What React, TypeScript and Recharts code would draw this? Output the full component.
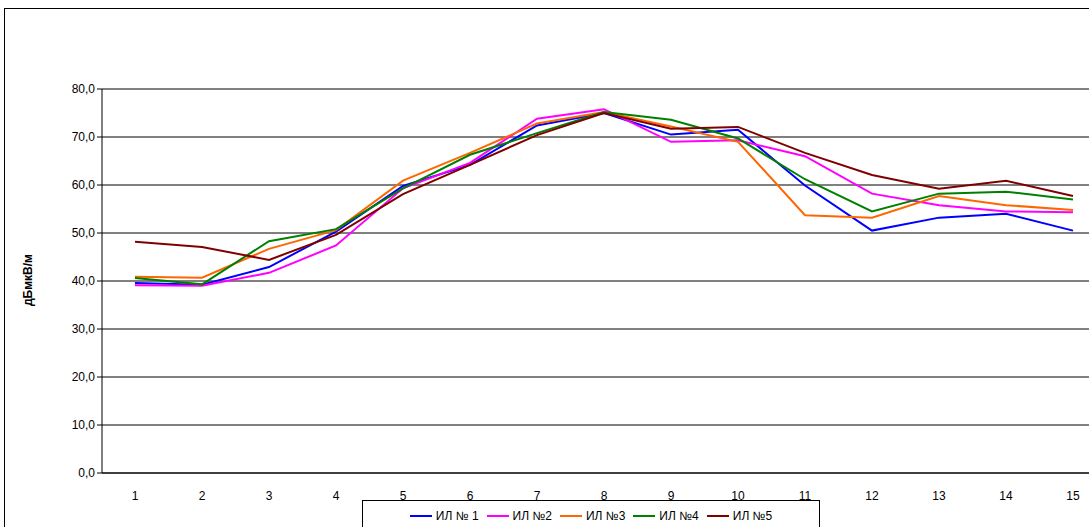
import React from 'react';
import { LineChart, Line, XAxis, YAxis, CartesianGrid } from 'recharts';

const categories = ['1', '2', '3', '4', '5', '6', '7', '8', '9', '10', '11', '12', '13', '14', '15'];
const il1 = [39.6, 39.2, 42.9, 50.3, 59.8, 64.2, 72.4, 75.0, 70.5, 71.5, 59.9, 50.5, 53.2, 54.0, 50.5];
const il2 = [39.1, 39.0, 41.7, 47.4, 59.3, 64.6, 73.8, 75.8, 69.0, 69.3, 66.0, 58.2, 55.8, 54.5, 54.3];
const il3 = [40.9, 40.7, 46.7, 50.6, 60.9, 66.7, 72.8, 75.2, 72.2, 69.0, 53.7, 53.2, 57.7, 55.8, 54.8];
const il4 = [40.6, 39.3, 48.3, 50.8, 59.3, 66.3, 70.8, 75.2, 73.6, 69.7, 61.2, 54.5, 58.2, 58.6, 57.0];
const il5 = [48.2, 47.1, 44.4, 49.6, 58.1, 64.2, 70.4, 75.0, 71.7, 72.1, 66.7, 62.1, 59.2, 60.9, 57.7];
const yTicks = [0, 10, 20, 30, 40, 50, 60, 70, 80];

const series = [
  { key: 'il1', name: 'ИЛ № 1', color: '#0000ff' },
  { key: 'il2', name: 'ИЛ №2', color: '#ff00ff' },
  { key: 'il3', name: 'ИЛ №3', color: '#ff6600' },
  { key: 'il4', name: 'ИЛ №4', color: '#008000' },
  { key: 'il5', name: 'ИЛ №5', color: '#800000' },
];

const data = categories.map((c, i) => ({
  cat: c, il1: il1[i], il2: il2[i], il3: il3[i], il4: il4[i], il5: il5[i],
}));

export default function App() {
  const font = 'Arial, "Liberation Sans", sans-serif';
  return (
    <div style={{ position: 'fixed', left: 0, top: 0, width: 1089, height: 527, overflow: 'hidden', background: '#fff', fontFamily: font }}>
      <div style={{ position: 'absolute', left: 4, top: 8, width: 1120, height: 560, border: '1px solid #000' }} />
      <div style={{ position: 'absolute', left: 0, top: 0 }}>
        <LineChart width={1120} height={540} data={data} margin={{ top: 89, right: 14, bottom: 37, left: 0 }}>
          <CartesianGrid vertical={false} stroke="#000" strokeWidth={1} />
          <XAxis dataKey="cat" height={30} stroke="#000" padding={{ left: 33, right: 33 }} interval={0}
            tick={{ fill: '#000', fontSize: 12, fontFamily: font }} tickLine={false} tickMargin={12} />
          <YAxis width={102} domain={[0, 80]} ticks={yTicks} stroke="#000" interval={0}
            tickFormatter={(v: number) => v.toFixed(1).replace('.', ',')}
            tick={{ fill: '#000', fontSize: 12, fontFamily: font }} tickSize={5} tickMargin={2} />
          {series.map((s) => (
            <Line key={s.key} type="linear" dataKey={s.key} name={s.name} stroke={s.color}
              strokeWidth={2} dot={false} isAnimationActive={false} />
          ))}
        </LineChart>
      </div>
      <div style={{ position: 'absolute', left: 28, top: 280, transform: 'translate(-50%,-50%) rotate(-90deg)', fontSize: 12, fontWeight: 'bold', whiteSpace: 'nowrap' }}>
        дБмкВ/м
      </div>
      <div style={{ position: 'absolute', left: 362, top: 500, width: 456, height: 30, border: '1px solid #000', background: '#fff', display: 'flex', alignItems: 'center', justifyContent: 'center', gap: 8, fontSize: 12 }}>
        {series.map((s) => (
          <span key={s.key} style={{ display: 'flex', alignItems: 'center', gap: 4 }}>
            <span style={{ display: 'inline-block', width: 22, height: 2, background: s.color }} />
            {s.name}
          </span>
        ))}
      </div>
    </div>
  );
}
